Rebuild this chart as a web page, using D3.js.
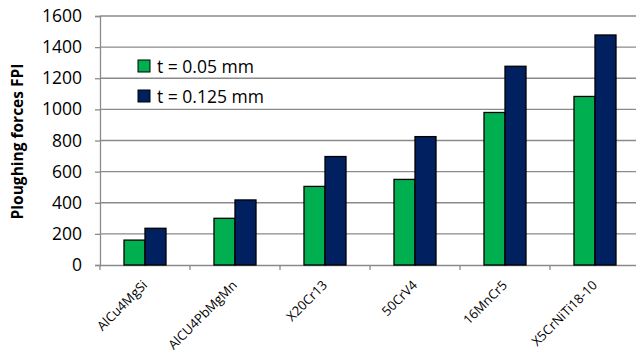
<!DOCTYPE html>
<html>
<head>
<meta charset="utf-8">
<script src="https://cdn.jsdelivr.net/npm/d3@7"></script>
<style>
  html, body { margin: 0; padding: 0; background: #fff; }
  svg { display: block; }
  text { font-family: "Open Sans", "DejaVu Sans", sans-serif; fill: #000; }
</style>
</head>
<body>
<svg id="chart" width="636" height="356"></svg>
<script>
// Ploughing forces per material for two cutting depths
const materials = ["AlCu4MgSi", "AlCU4PbMgMn", "X20Cr13", "50CrV4", "16MnCr5", "X5CrNiTi18-10"];
const seriesNames = ["t = 0.05 mm", "t = 0.125 mm"];
const fineCut = [160, 300, 505, 550, 980, 1083];
const coarseCut = [236, 418, 697, 825, 1277, 1478];
const yTicks = [0, 200, 400, 600, 800, 1000, 1200, 1400, 1600];
const colors = ["#00b050", "#002060"];

const svg = d3.select("#chart");
const plotLeft = 100, plotRight = 640, plotTop = 16, plotBottom = 265;

const x = d3.scaleBand().domain(materials).range([plotLeft, plotRight]).paddingInner(0).paddingOuter(0);
const y = d3.scaleLinear().domain([0, 1600]).range([plotBottom, plotTop]);
const groupW = 42;
const xs = d3.scaleBand().domain(seriesNames).range([0, groupW]).padding(0);

// horizontal gridlines
svg.append("g")
  .selectAll("line")
  .data(yTicks.filter(d => d > 0))
  .join("line")
  .attr("x1", plotLeft).attr("x2", plotRight)
  .attr("y1", d => y(d)).attr("y2", d => y(d))
  .attr("stroke", "#8a8a8a").attr("stroke-width", 1.3);

// y axis
const yAxis = svg.append("g")
  .attr("transform", `translate(${plotLeft},0)`)
  .call(d3.axisLeft(y).tickValues(yTicks).tickFormat(d3.format("d")).tickSize(5).tickPadding(13));
yAxis.select(".domain").attr("stroke", "#8a8a8a").attr("stroke-width", 1.3);
yAxis.selectAll(".tick line").attr("stroke", "#8a8a8a").attr("stroke-width", 1.3);
yAxis.selectAll("text").style("font-size", "17.5px").attr("fill", "#000")
  .style("font-family", "'Open Sans', sans-serif");

// x axis
const xAxis = svg.append("g")
  .attr("transform", `translate(0,${plotBottom})`)
  .call(d3.axisBottom(x).tickSize(0).tickFormat(""));
xAxis.select(".domain").attr("stroke", "#8a8a8a").attr("stroke-width", 1.3);
xAxis.selectAll(".tick").remove();
// category boundary tick marks
svg.append("g")
  .selectAll("line")
  .data(materials)
  .join("line")
  .attr("x1", d => x(d)).attr("x2", d => x(d))
  .attr("y1", plotBottom).attr("y2", plotBottom + 5)
  .attr("stroke", "#8a8a8a").attr("stroke-width", 1.3);

// bars
const rows = materials.map((m, i) => ({ m, vals: [fineCut[i], coarseCut[i]] }));
const groups = svg.append("g").selectAll("g")
  .data(rows)
  .join("g")
  .attr("transform", d => `translate(${x(d.m) + (x.bandwidth() - groupW) / 2},0)`);
groups.selectAll("rect")
  .data(d => d.vals.map((v, k) => ({ v, k })))
  .join("rect")
  .attr("x", d => xs(seriesNames[d.k]))
  .attr("width", xs.bandwidth())
  .attr("y", d => y(d.v))
  .attr("height", d => y(0) - y(d.v))
  .attr("fill", d => colors[d.k])
  .attr("stroke", "#000").attr("stroke-width", 1.3);

// category labels, rotated
svg.append("g")
  .selectAll("text")
  .data(materials)
  .join("text")
  .attr("transform", d => `translate(${x(d) + x.bandwidth() / 2 + 3},${plotBottom + 21}) rotate(-45)`)
  .attr("text-anchor", "end")
  .style("font-size", "13px")
  .text(d => d);

// y axis title
svg.append("text")
  .attr("transform", `translate(23,${(plotTop + plotBottom) / 2 + 1}) rotate(-90)`)
  .attr("text-anchor", "middle")
  .style("font-size", "15.5px")
  .style("font-weight", "bold")
  .text("Ploughing forces FPI");

// legend
const legend = svg.append("g").selectAll("g")
  .data(seriesNames)
  .join("g")
  .attr("transform", (d, i) => `translate(138,${60 + i * 30})`);
legend.append("rect")
  .attr("width", 12).attr("height", 12)
  .attr("fill", (d, i) => colors[i])
  .attr("stroke", "#000").attr("stroke-width", 1);
legend.append("text")
  .attr("x", 19).attr("y", 12.5)
  .style("font-size", "17.5px")
  .text(d => d);
</script>
</body>
</html>
